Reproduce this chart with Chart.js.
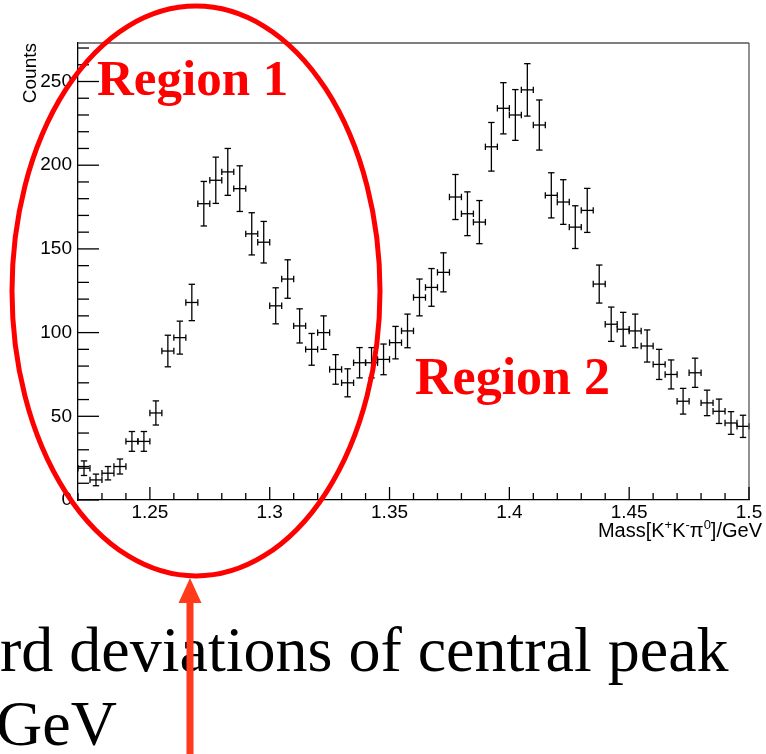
<!DOCTYPE html>
<html>
<head>
<meta charset="utf-8">
<script src="https://cdn.jsdelivr.net/npm/chart.js@4"></script>
<style>
  html, body { margin: 0; padding: 0; background: #fff; }
  #wrap { width: 766px; height: 754px; position: relative; }
</style>
</head>
<body>
<div id="wrap"><canvas id="massChart"></canvas></div>
<script>
// K+K-pi0 invariant mass histogram, 0.005 GeV bins from 1.22 to 1.50
const binCenters = [
    1.2225, 1.2275, 1.2325, 1.2375, 1.2425, 1.2475, 1.2525, 1.2575, 1.2625, 1.2675,
    1.2725, 1.2775, 1.2825, 1.2875, 1.2925, 1.2975, 1.3025, 1.3075, 1.3125, 1.3175,
    1.3225, 1.3275, 1.3325, 1.3375, 1.3425, 1.3475, 1.3525, 1.3575, 1.3625, 1.3675,
    1.3725, 1.3775, 1.3825, 1.3875, 1.3925, 1.3975, 1.4025, 1.4075, 1.4125, 1.4175,
    1.4225, 1.4275, 1.4325, 1.4375, 1.4425, 1.4475, 1.4525, 1.4575, 1.4625, 1.4675,
    1.4725, 1.4775, 1.4825, 1.4875, 1.4925, 1.4975
];
const counts = [
    19, 12, 16, 20, 35, 35, 52, 89, 97, 118,
    177, 191, 196, 186, 159, 154, 116, 132, 104, 90,
    100, 78, 70, 82, 82, 84, 94, 101, 121, 127,
    136, 181, 171, 166, 211, 234, 230, 245, 224, 182,
    178, 163, 173, 129, 105, 102, 101, 92, 81, 75,
    59, 76, 58, 53, 46, 44
];
const binWidth = 0.005;
const xRange = [1.22, 1.5];
const yRange = [0, 273];
const yLabel = 'Counts';
const regionLabels = ['Region 1', 'Region 2'];
const captionLines = ['rd deviations of central peak', 'GeV'];

const points = binCenters.map((m, i) => ({ x: m, y: counts[i] }));

const sans = '"Liberation Sans", Arial, sans-serif';
const serif = '"Liberation Serif", "Times New Roman", serif';
const isMajorX = v => Math.abs(v * 20 - Math.round(v * 20)) < 1e-6;

function line(ctx, x1, y1, x2, y2) {
    ctx.beginPath();
    ctx.moveTo(x1, y1);
    ctx.lineTo(x2, y2);
    ctx.stroke();
}

// error bars: bin width horizontally, sqrt(N) vertically, with end caps
const errorBars = {
    id: 'errorBars',
    afterDatasetsDraw(chart) {
        const ctx = chart.ctx;
        const xs = chart.scales.x, ys = chart.scales.y;
        const ds = chart.data.datasets[0].data;
        const cap = 3.2;
        ctx.save();
        ctx.strokeStyle = '#000';
        ctx.lineWidth = 1.3;
        ds.forEach(p => {
            const err = Math.sqrt(p.y);
            const xl = xs.getPixelForValue(p.x - binWidth / 2);
            const xr = xs.getPixelForValue(p.x + binWidth / 2);
            const xc = xs.getPixelForValue(p.x);
            const yc = ys.getPixelForValue(p.y);
            const yt = ys.getPixelForValue(p.y + err);
            const yb = ys.getPixelForValue(p.y - err);
            line(ctx, xl, yc, xr, yc);
            line(ctx, xc, yt, xc, yb);
            line(ctx, xc - cap, yt, xc + cap, yt);
            line(ctx, xc - cap, yb, xc + cap, yb);
            line(ctx, xl, yc - cap, xl, yc + cap);
            line(ctx, xr, yc - cap, xr, yc + cap);
        });
        ctx.restore();
    }
};

// frame, inward ticks, axis titles and the red annotations
const rootFrame = {
    id: 'rootFrame',
    afterDraw(chart) {
        const ctx = chart.ctx;
        const a = chart.chartArea;
        const xs = chart.scales.x, ys = chart.scales.y;
        ctx.save();

        ctx.strokeStyle = '#555';
        ctx.lineWidth = 1.3;
        line(ctx, a.left, a.top, a.right, a.top);
        line(ctx, a.right, a.top, a.right, a.bottom);

        ctx.strokeStyle = '#000';
        ctx.lineWidth = 1.3;
        xs.ticks.forEach(t => {
            const px = xs.getPixelForValue(t.value);
            line(ctx, px, a.bottom, px, a.bottom - (isMajorX(t.value) ? 13 : 7));
        });
        ys.ticks.forEach(t => {
            const py = ys.getPixelForValue(t.value);
            line(ctx, a.left, py, a.left + (t.value % 50 === 0 ? 21 : 11), py);
        });

        // y title
        ctx.fillStyle = '#000';
        ctx.font = '19px ' + sans;
        ctx.save();
        ctx.translate(36, a.top);
        ctx.rotate(-Math.PI / 2);
        ctx.textAlign = 'right';
        ctx.textBaseline = 'alphabetic';
        ctx.fillText(yLabel, 0, 0);
        ctx.restore();

        // x title with superscripts
        const parts = [['Mass[K', 0], ['+', 1], ['K', 0], ['-', 1], ['\u03c0', 0], ['0', 1], [']/GeV', 0]];
        const base = '20px ' + sans;
        const sup = '13px ' + sans;
        let total = 0;
        parts.forEach(([s, up]) => { ctx.font = up ? sup : base; total += ctx.measureText(s).width; });
        let tx = 762 - total;
        ctx.textAlign = 'left';
        ctx.textBaseline = 'alphabetic';
        parts.forEach(([s, up]) => {
            ctx.font = up ? sup : base;
            ctx.fillText(s, tx, up ? 529 : 537);
            tx += ctx.measureText(s).width;
        });

        // caption text below the plot
        ctx.font = '64px ' + serif;
        ctx.fillText(captionLines[0], 0, 671);
        ctx.fillText(captionLines[1], -4, 745);

        // region labels
        ctx.fillStyle = '#ff0000';
        ctx.font = 'bold 51px ' + serif;
        ctx.fillText(regionLabels[0], 97, 95);
        ctx.font = 'bold 52px ' + serif;
        ctx.fillText(regionLabels[1], 415, 394);

        // ellipse around region 1
        ctx.strokeStyle = '#ff0000';
        ctx.lineWidth = 5;
        ctx.beginPath();
        ctx.ellipse(196, 291, 184, 285, 0, 0, Math.PI * 2);
        ctx.stroke();

        // arrow pointing up at the ellipse
        ctx.fillStyle = '#ff3b1c';
        ctx.fillRect(186.5, 600, 7, 160);
        ctx.beginPath();
        ctx.moveTo(190, 578);
        ctx.lineTo(201.5, 603);
        ctx.lineTo(178.5, 603);
        ctx.closePath();
        ctx.fill();

        ctx.restore();
    }
};

new Chart(document.getElementById('massChart'), {
    type: 'scatter',
    data: {
        datasets: [{
            data: points,
            pointRadius: 0,
            showLine: false,
            borderColor: '#000'
        }]
    },
    options: {
        responsive: true,
        maintainAspectRatio: false,
        animation: false,
        layout: { padding: { top: 43, right: 17, left: 0, bottom: 0 } },
        plugins: {
            legend: { display: false },
            tooltip: { enabled: false }
        },
        scales: {
            x: {
                type: 'linear',
                min: xRange[0],
                max: xRange[1],
                grid: { display: false, drawTicks: false },
                border: { display: true, color: '#000', width: 1.3 },
                ticks: {
                    stepSize: 0.01,
                    includeBounds: false,
                    autoSkip: false,
                    minRotation: 0,
                    maxRotation: 0,
                    padding: 1,
                    color: '#000',
                    font: { family: sans, size: 19 },
                    callback: v => isMajorX(v) ? String(Math.round(v * 100) / 100) : ''
                },
                afterFit: s => { s.height = 254; }
            },
            y: {
                min: yRange[0],
                max: yRange[1],
                grid: { display: false, drawTicks: false },
                border: { display: true, color: '#000', width: 1.3 },
                ticks: {
                    stepSize: 10,
                    includeBounds: false,
                    autoSkip: false,
                    padding: 6,
                    color: '#000',
                    font: { family: sans, size: 19 },
                    callback: v => v % 50 === 0 ? String(v) : ''
                },
                afterFit: s => { s.width = 78; }
            }
        }
    },
    plugins: [errorBars, rootFrame]
});
</script>
</body>
</html>
